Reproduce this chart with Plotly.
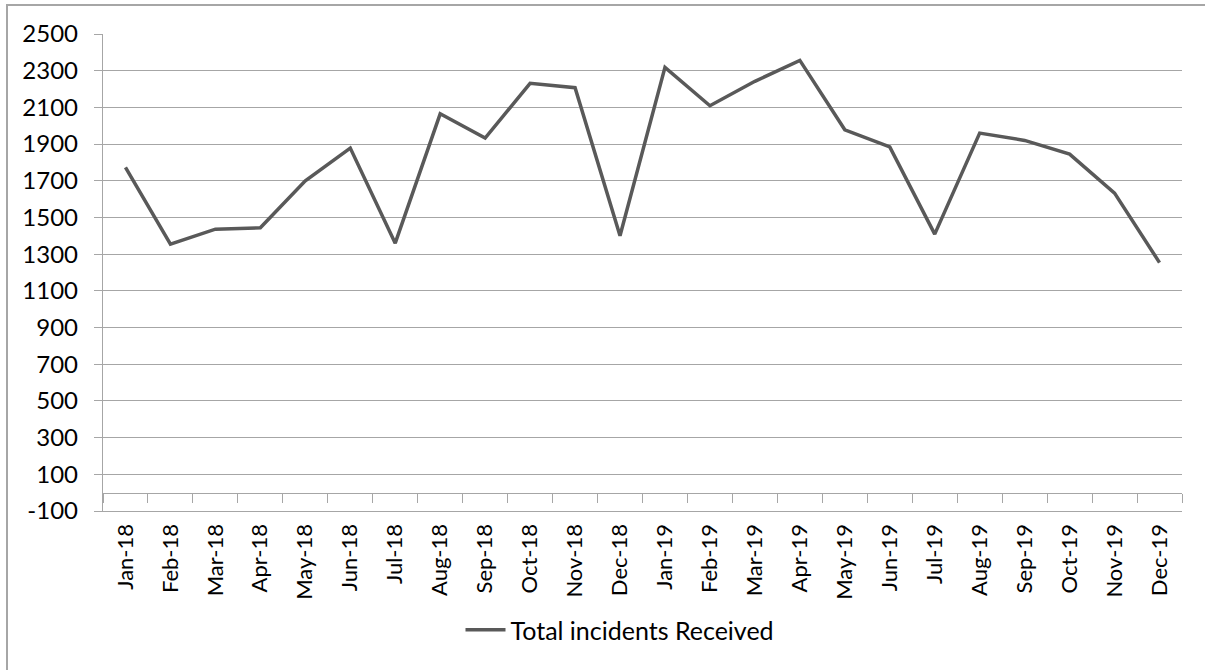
import plotly.graph_objects as go

months = ["Jan-18", "Feb-18", "Mar-18", "Apr-18", "May-18", "Jun-18", "Jul-18", "Aug-18",
          "Sep-18", "Oct-18", "Nov-18", "Dec-18", "Jan-19", "Feb-19", "Mar-19", "Apr-19",
          "May-19", "Jun-19", "Jul-19", "Aug-19", "Sep-19", "Oct-19", "Nov-19", "Dec-19"]
incidents = [1773, 1355, 1436, 1444, 1700, 1878, 1360, 2065, 1933, 2231, 2207, 1400,
             2318, 2109, 2242, 2356, 1978, 1885, 1409, 1960, 1920, 1845, 1633, 1254]
y_tick_vals = [-100, 100, 300, 500, 700, 900, 1100, 1300, 1500, 1700, 1900, 2100, 2300, 2500]
y_tick_text = ["-100", "100", "300", "500", "700", "900", "1100", "1300", "1500", "1700",
               "1900", "2100", "2300", "2500"]
series_name = "Total incidents Received"

W, H = 1205, 670
ML, MR, MT, MB = 103, 23, 34, 159
PW, PH = W - ML - MR, H - MT - MB
GRID = "#A6A6A6"
FONT = "Lato"
FS = 24

def px_x(px):
    return (px - ML) / PW

def px_y(py):
    return (H - MB - py) / PH

fig = go.Figure()
fig.add_trace(go.Scatter(
    x=months, y=incidents, mode="lines", name=series_name,
    line=dict(color="#595959", width=3.5), xaxis="x", yaxis="y",
))
# invisible trace to carry the zero-crossing category axis
fig.add_trace(go.Scatter(
    x=months, y=incidents, mode="lines", showlegend=False, hoverinfo="skip",
    line=dict(color="rgba(0,0,0,0)", width=0), xaxis="x2", yaxis="y",
))

ymin, ymax = y_tick_vals[0], y_tick_vals[-1]

fig.update_layout(
    width=W, height=H,
    margin=dict(l=ML, r=MR, t=MT, b=MB, pad=0),
    paper_bgcolor="white", plot_bgcolor="white",
    font=dict(family=FONT, size=FS, color="#000000"),
    showlegend=True,
    legend=dict(orientation="h", x=px_x(620), y=px_y(630), xanchor="center", yanchor="middle",
                font=dict(family=FONT, size=FS + 1, color="#000000"),
                bgcolor="rgba(0,0,0,0)", itemwidth=40),
    xaxis=dict(
        type="category", categoryorder="array", categoryarray=months,
        range=[-0.5, len(months) - 0.5],
        showgrid=False, zeroline=False,
        showline=True, linecolor=GRID, linewidth=1.3,
        ticks="", tickangle=-90, ticklabelstandoff=3,
        tickfont=dict(family=FONT, size=22, color="#000000"),
    ),
    xaxis2=dict(
        type="category", categoryorder="array", categoryarray=months,
        range=[-0.5, len(months) - 0.5],
        overlaying="x", anchor="free", position=(0 - ymin) / (ymax - ymin),
        showgrid=False, zeroline=False, showticklabels=False,
        showline=True, linecolor=GRID, linewidth=1.3,
        ticks="outside", tickson="boundaries", ticklen=9, tickwidth=1.3, tickcolor=GRID,
    ),
    yaxis=dict(
        range=[ymin, ymax], tickvals=y_tick_vals, ticktext=y_tick_text,
        showgrid=True, gridcolor=GRID, gridwidth=1.3,
        zeroline=False, showline=True, linecolor=GRID, linewidth=1.3,
        ticks="outside", ticklen=8, tickwidth=1.3, tickcolor=GRID,
        ticklabelstandoff=11,
        tickfont=dict(family=FONT, size=FS, color="#000000"),
    ),
    shapes=[dict(type="rect", xref="paper", yref="paper",
                 x0=px_x(7), x1=px_x(1215), y0=px_y(5), y1=px_y(690),
                 line=dict(color=GRID, width=2), fillcolor="rgba(0,0,0,0)", layer="below")],
)

fig.write_html("out.html")
